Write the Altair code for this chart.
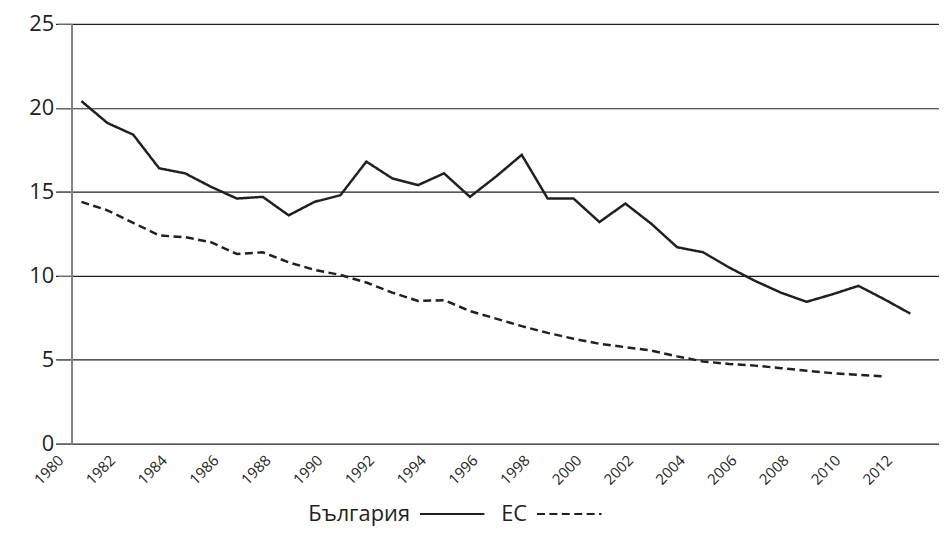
import altair as alt
import pandas as pd

# ---- data ----
years_bg = list(range(1981, 2014))
bulgaria = [20.4, 19.1, 18.4, 16.4, 16.1, 15.3, 14.6, 14.7, 13.6, 14.4,
            14.8, 16.8, 15.8, 15.4, 16.1, 14.7, 15.9, 17.2, 14.6, 14.6,
            13.2, 14.3, 13.1, 11.7, 11.4, 10.5, 9.7, 9.0, 8.45, 8.9,
            9.4, 8.6, 7.75]

years_eu = list(range(1981, 2013))
eu = [14.4, 13.9, 13.15, 12.4, 12.3, 12.0, 11.3, 11.4, 10.8, 10.35,
      10.05, 9.6, 9.0, 8.5, 8.55, 7.9, 7.45, 7.0, 6.6, 6.25,
      5.95, 5.75, 5.55, 5.2, 4.9, 4.75, 4.65, 4.5, 4.35, 4.2,
      4.1, 4.0]

series_names = ["България", "ЕС"]
x_tick_years = list(range(1980, 2013, 2))
y_ticks = [0, 5, 10, 15, 20, 25]

df = pd.concat([
    pd.DataFrame({"year": years_bg, "value": bulgaria, "series": series_names[0]}),
    pd.DataFrame({"year": years_eu, "value": eu, "series": series_names[1]}),
], ignore_index=True)

FONT = "Open Sans"
INK = "#231f20"

chart = alt.Chart(df).mark_line(strokeWidth=2.5, color=INK).encode(
    x=alt.X(
        "year:Q",
        scale=alt.Scale(domain=[1980, 2014.11], range=[-16.1, 874], nice=False, zero=False),
        axis=alt.Axis(values=x_tick_years, format="d", labelAngle=-45,
                      labelAlign="right", labelBaseline="top", labelFontSize=15,
                      labelFont=FONT, labelColor=INK, labelOffset=0, labelPadding=9,
                      labelOverlap=False, domain=False, ticks=False, grid=False,
                      title=None),
    ),
    y=alt.Y(
        "value:Q",
        scale=alt.Scale(domain=[0, 25], nice=False),
        axis=alt.Axis(values=y_ticks, labelFontSize=22, labelFont=FONT, labelColor=INK,
                      labelPadding=4, tickSize=14, tickColor="#6d6e71", tickWidth=1.2,
                      domainColor="#808285", domainWidth=2, grid=True,
                      gridColor=INK, gridWidth=1.2, title=None),
    ),
    strokeDash=alt.StrokeDash(
        "series:N",
        scale=alt.Scale(domain=series_names, range=[[1, 0], [8, 4.5]]),
        legend=alt.Legend(title=None, orient="none", legendX=350, legendY=460,
                          direction="horizontal", symbolType="stroke",
                          symbolSize=4225, symbolStrokeWidth=2,
                          symbolStrokeColor=INK, labelFontSize=22, labelFont=FONT,
                          labelColor=INK, labelAlign="right",
                          labelOffset={"expr": "-76"},
                          columnPadding=12, padding=0),
    ),
).properties(
    width=874,
    height=423,
    autosize=alt.AutoSizeParams(type="none"),
    padding={"left": 64, "top": 14, "right": 0, "bottom": 92},
).configure_view(stroke="transparent")

chart.save("out.html", embed_options={"renderer": "svg", "actions": False})
